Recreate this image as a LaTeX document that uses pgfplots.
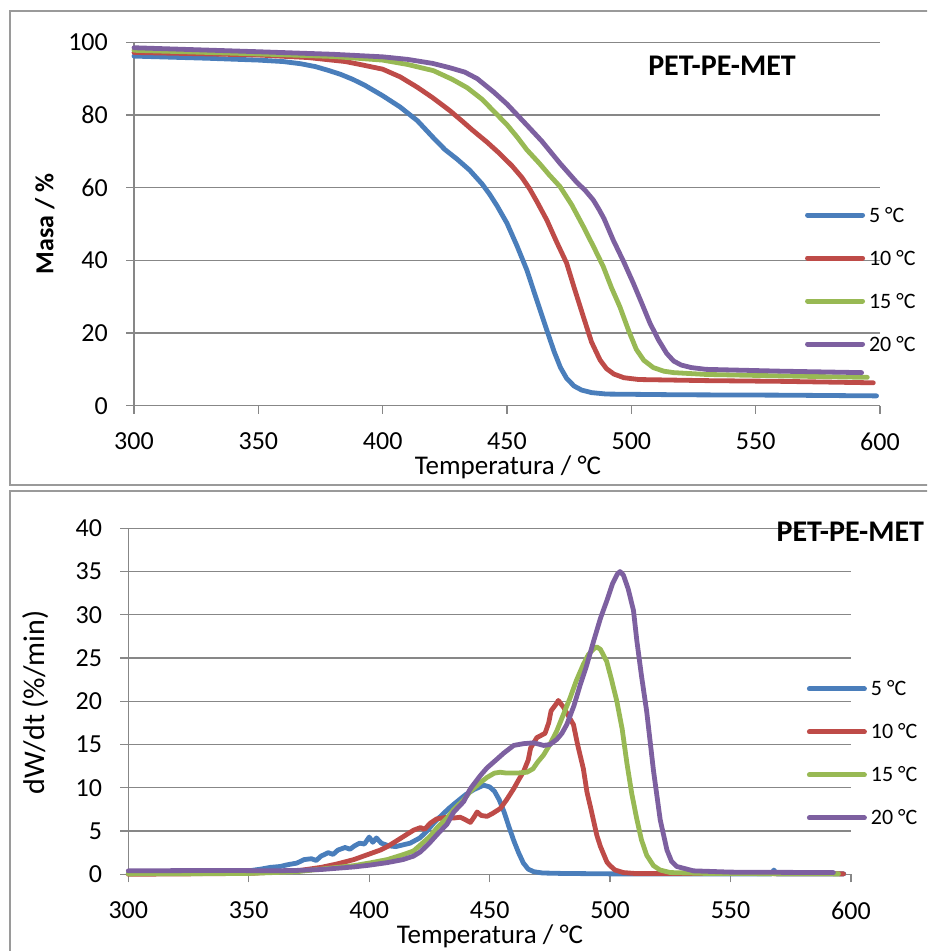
\documentclass[border=0pt]{standalone}
\usepackage{pgfplots}
\pgfplotsset{compat=1.18}
\usepackage{fontspec}
\setmainfont{Carlito}
\definecolor{cblue}{HTML}{4A7EBB}
\definecolor{cred}{HTML}{BE4B48}
\definecolor{cgreen}{HTML}{98B954}
\definecolor{cpurple}{HTML}{7D60A0}
\definecolor{gridgray}{HTML}{878787}
\definecolor{boxgray}{HTML}{9A9A9A}

\pgfplotstableread{
T M
300 96.2
330 95.6
350 95.1
360 94.7
367 94.1
373 93.3
378 92.3
383 91.2
388 89.8
393 88.1
400 85.3
407 82.2
414 78.4
420 74.0
425 70.5
430 67.8
435 64.8
440 61.0
443 58.2
446 55.0
450 50.2
454 44.0
458 37.3
462 29.0
466 20.8
469 14.8
471.5 10.5
474 7.5
477 5.4
480 4.3
484 3.6
490 3.2
520 3.0
560 2.9
598.6 2.7
}\tgA
\pgfplotstableread{
T M
300 97.2
330 96.8
350 96.5
370 95.8
385 94.7
393 93.6
400 92.6
407 90.5
414 87.6
420 84.8
427 81.2
432 78.3
436 75.9
442 72.5
447 69.4
452 66.0
456 62.8
459 59.8
462 56.2
466 51.1
470 45.0
474 39.2
477 32.5
480.7 24.5
484 17.5
487.4 12.6
490 10.2
493 8.7
497 7.7
503 7.2
530 6.9
560 6.7
597.3 6.3
}\tgB
\pgfplotstableread{
T M
300 97.8
350 96.8
380 96.1
400 95.1
410 93.9
420.4 92.2
428 89.8
434 87.5
440 84.3
445 80.8
450 77.3
454 74.0
458 70.4
463 66.7
467 63.5
471.3 60.3
476 55.3
480.7 49.3
485 43.5
488.7 38.3
492 32.5
495.4 27.2
499 20.5
502 15.5
505 12.5
508.8 10.5
513 9.5
517 9.1
530 8.6
560 8.2
594.9 7.8
}\tgC
\pgfplotstableread{
T M
300 98.5
350 97.4
380 96.7
400 96.0
410 95.3
420 94.2
427 93.0
433 91.8
438 90.0
444.5 86.4
450 83.0
458 77.2
464 72.8
471.3 66.7
478 61.5
481.5 59.2
484.7 56.6
487 54.0
489 51.5
492.7 45.6
497 39.5
500.8 33.7
504 28.5
507.5 22.7
511 18.0
514.2 14.4
517 12.3
520 11.2
524 10.5
530 10.0
560 9.5
592.6 9.1
}\tgD

\pgfplotstableread{
T D
300 0.1
320 0.1
340 0.2
350 0.4
355 0.6
359 0.8
363 0.9
366 1.1
370 1.3
373 1.7
376 1.8
378 1.6
380 2.1
383 2.5
385 2.3
387 2.8
390 3.1
392 2.9
394 3.3
396 3.6
398 3.5
400 4.3
401.5 3.7
403 4.2
405 3.6
408 3.3
411 3.2
414 3.4
417 3.6
421 4.2
424 5.0
427 6.0
430 6.8
433 7.6
436 8.3
440 9.2
443.5 9.8
447.5 10.3
450 10.1
452 9.6
454 8.6
456 7.2
458 5.5
460 3.9
462 2.5
464 1.3
466 0.6
468.3 0.3
472 0.15
480 0.1
500 0.05
550 0.05
567 0.05
568 0.5
569 0.05
597 0.05
}\dtgA
\pgfplotstableread{
T D
300 0.0
350 0.1
370 0.4
380 0.8
386.7 1.2
393.6 1.7
400.6 2.4
404.6 2.8
407.5 3.2
411 3.8
414.4 4.4
418.4 5.1
421.3 5.4
423 5.2
425.3 5.9
428 6.4
432.3 6.6
435 6.5
437.8 6.6
440 6.3
442 6.0
443.5 6.6
444.8 7.2
446.5 6.8
448.9 6.7
451 7.0
454.4 7.6
457 8.6
460 9.9
462 10.9
464.1 11.9
466 13.2
467 14.6
469.6 15.8
473 16.3
474.5 17.5
475.5 18.9
477.9 19.8
478.5 20.1
480.7 19.3
482.5 18.4
484.8 17.3
486.5 15.0
488.9 12.2
490.4 9.5
492 7.6
494.5 4.5
496 3.2
498.7 1.4
500 1.0
502 0.5
505.5 0.2
510 0.1
550 0.1
596.9 0.05
}\dtgB
\pgfplotstableread{
T D
300 0.05
350 0.1
370 0.3
380 0.6
393.6 1.0
400 1.3
407.5 1.7
414.4 2.3
418.4 2.7
421.3 3.4
425.3 4.4
428.2 5.4
432.3 6.5
435.1 7.5
439.2 8.6
442 9.6
446.1 10.6
448.9 11.2
452 11.7
454.4 11.8
457 11.7
461.3 11.7
465.5 11.8
468 12.2
470 13.0
472.4 13.8
475 15.0
477.9 16.6
480.5 18.4
483.4 20.4
486 22.4
488.95 24.3
491 25.4
493 26.0
494.4 26.3
496 26.0
498.6 24.6
500.5 22.6
502.8 20.0
505 16.8
507 12.8
509 9.3
511 6.5
513 4.0
515.2 2.2
518 1.0
520.7 0.5
525 0.2
540 0.1
594.8 0.05
}\dtgC
\pgfplotstableread{
T D
300 0.4
340 0.45
360 0.4
370 0.45
379.8 0.55
393.6 0.85
400 1.05
407.5 1.35
414 1.7
418.4 2.1
421.3 2.6
425.3 3.7
428.2 4.6
432.3 5.8
435.1 7.2
439.2 8.4
442 9.9
446.1 11.4
448.9 12.3
453 13.3
455.8 14.0
460 14.9
464 15.1
468.3 15.2
472.4 14.9
475 15.0
477.9 15.6
480 16.3
482 17.3
485 19.5
487.6 21.9
490 23.9
493.1 26.9
496 29.6
498.6 31.6
501 33.6
503 34.7
504.1 35.0
505.5 34.6
507.5 33.0
509.7 30.5
511.1 27.0
513 23.0
515.2 18.8
518 12.0
520.8 6.3
523.6 2.8
525.5 1.5
527.7 0.9
534.6 0.4
550 0.25
592.7 0.2
}\dtgD

\pgfplotsset{
  panel/.style={
    scale only axis,
    axis x line*=bottom, axis y line*=left,
    axis line style={-, gridgray, line width=1.3pt},
    ymajorgrids, grid style={gridgray, line width=1.3pt},
    major tick style={gridgray, line width=1.3pt},
    tick align=outside, major tick length=8pt,
    xmin=300, xmax=600, xtick={300,350,...,600},
    /pgf/number format/assume math mode=true,
    ticklabel style={font=\fontsize{26}{26}\selectfont, inner sep=0pt},
    xticklabel style={anchor=north, yshift=-19pt},
    yticklabel style={anchor=east, xshift=-18pt},
    every axis plot/.append style={line width=4.8pt, line join=round, line cap=round},
    legend image code/.code={\draw[##1, line width=5pt, line cap=round] (0pt,0pt) -- (55pt,0pt);},
    legend style={draw=none, fill=none, inner sep=0pt, outer sep=0pt, anchor=north west,
      font=\fontsize{22}{22}\selectfont, row sep=29pt,
      nodes={inner sep=0pt, text height=14pt, text depth=0pt},
      /tikz/every odd column/.append style={column sep=4pt}},
    legend cell align=left,
    clip=false,
  }
}

\begin{document}
\begin{tikzpicture}[x=1pt,y=1pt]
\useasboundingbox (0,0) rectangle (927,951);
\clip (0,0) rectangle (927,951);
\draw[boxgray, line width=1.5pt] (10,940) rectangle (980,466);
\draw[boxgray, line width=1.5pt] (10,460) rectangle (980,-30);

\begin{axis}[panel, at={(134pt,545.3pt)}, anchor=south west,
  width=746pt, height=363.4pt,
  ymin=0, ymax=100, ytick={0,20,...,100},
  legend style={at={(0.8995,0.544)}}]
\addplot[cblue] table[x=T,y=M] {\tgA};
\addlegendentry{5 °C}
\addplot[cred] table[x=T,y=M] {\tgB};
\addlegendentry{10 °C}
\addplot[cgreen] table[x=T,y=M] {\tgC};
\addlegendentry{15 °C}
\addplot[cpurple] table[x=T,y=M] {\tgD};
\addlegendentry{20 °C}
\end{axis}

\begin{axis}[panel, at={(128.3pt,76.7pt)}, anchor=south west,
  width=722.7pt, height=346pt,
  ymin=0, ymax=40, ytick={0,5,...,40},
  legend style={at={(0.939,0.556)}}]
\addplot[cblue] table[x=T,y=D] {\dtgA};
\addlegendentry{5 °C}
\addplot[cred] table[x=T,y=D] {\dtgB};
\addlegendentry{10 °C}
\addplot[cgreen] table[x=T,y=D] {\dtgC};
\addlegendentry{15 °C}
\addplot[cpurple] table[x=T,y=D] {\dtgD};
\addlegendentry{20 °C}
\end{axis}

\node[anchor=base, font=\fontsize{30}{30}\selectfont\bfseries] at (722,875) {PET-PE-MET};
\node[anchor=base west, font=\fontsize{30}{30}\selectfont\bfseries] at (773,409.3) {PET-PE-MET};
\node[anchor=base, font=\fontsize{27}{27}\selectfont, inner sep=0pt] at (508,476) {Temperatura / °C};
\node[anchor=base, font=\fontsize{27}{27}\selectfont, inner sep=0pt] at (490,7.7) {Temperatura / °C};
\node[anchor=base, rotate=90, font=\fontsize{26}{26}\selectfont\bfseries, inner sep=0pt] at (53.3,727) {Masa / \%};
\node[anchor=base, rotate=90, font=\fontsize{30}{30}\selectfont, inner sep=0pt] at (45,248.5) {dW/dt (\%/min)};
\end{tikzpicture}
\end{document}
